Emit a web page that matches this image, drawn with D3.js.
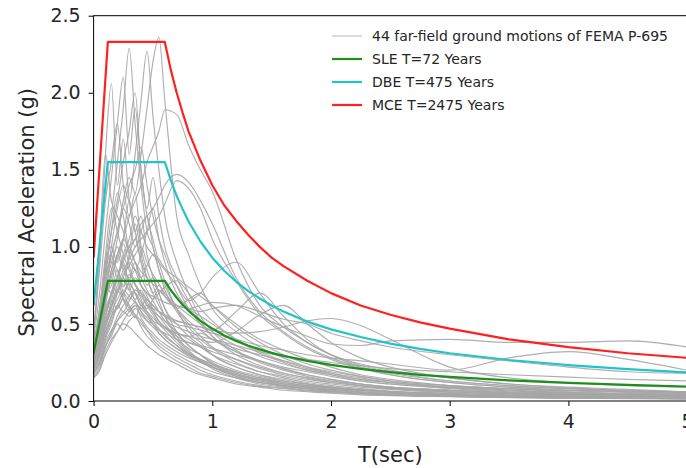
<!DOCTYPE html>
<html>
<head>
<meta charset="utf-8">
<script src="https://cdn.jsdelivr.net/npm/d3@7"></script>
<style>
  body { margin: 0; background: #fff; }
  svg { display: block; font-family: "DejaVu Sans", sans-serif; }
</style>
</head>
<body>
<svg id="chart" width="686" height="468"></svg>
<script>
// periods (s) shared by the 44 record spectra
const gmPeriods = [0, 0.05, 0.1, 0.15, 0.2, 0.25, 0.3, 0.35, 0.4, 0.45, 0.5, 0.55, 0.6, 0.7, 0.8, 0.9, 1.0,
  1.2, 1.4, 1.6, 1.8, 2.0, 2.25, 2.5, 3.0, 3.5, 4.0, 4.5, 5.0];

// spectral acceleration (g) of the 44 far-field records
const gmSa = [
  [.40,.55,.80,.95,1.10,1.30,1.45,1.35,1.60,1.90,2.20,2.36,1.95,1.20,.95,.75,.60,.45,.35,.28,.22,.18,.14,.12,.09,.07,.05,.045,.04],
  [.35,.60,.90,1.20,1.55,1.90,2.29,1.80,1.40,1.10,1.00,.85,.75,.60,.45,.38,.30,.22,.17,.14,.11,.09,.07,.06,.045,.035,.03,.025,.02],
  [.38,.50,.75,1.00,1.25,1.40,1.30,1.60,1.95,2.27,1.85,1.50,1.20,.90,.70,.55,.45,.33,.26,.21,.17,.14,.11,.09,.07,.055,.045,.04,.035],
  [.42,.90,1.60,2.06,1.40,1.70,1.30,1.10,1.20,.95,.80,.70,.60,.45,.36,.30,.24,.17,.13,.10,.08,.07,.055,.045,.035,.028,.022,.02,.018],
  [.40,.70,1.10,1.45,1.80,2.10,1.60,1.90,1.50,1.20,1.05,.90,.78,.60,.50,.42,.35,.27,.21,.17,.14,.12,.10,.08,.06,.05,.04,.035,.03],
  [.36,.55,.85,1.10,1.30,1.55,1.75,2.00,1.50,1.25,1.45,1.20,1.00,.80,.65,.52,.42,.32,.25,.20,.16,.13,.10,.085,.065,.05,.04,.035,.03],
  [.33,.45,.65,.80,.95,1.05,1.20,1.30,1.40,1.55,1.65,1.75,1.89,1.86,1.66,1.50,1.36,.92,.62,.48,.38,.30,.24,.20,.15,.11,.09,.075,.06],
  [.30,.40,.55,.70,.80,.90,1.00,1.05,1.15,1.20,1.25,1.32,1.40,1.47,1.42,1.30,1.15,.80,.58,.45,.35,.28,.22,.18,.13,.10,.08,.065,.055],
  [.28,.38,.50,.62,.75,.85,.92,1.00,1.05,1.10,1.15,1.20,1.28,1.43,1.38,1.25,1.05,.78,.56,.44,.34,.27,.21,.17,.12,.09,.07,.06,.05],
  [.45,.85,1.30,1.55,1.80,1.40,1.20,1.35,1.00,.85,.75,.65,.55,.42,.33,.26,.21,.15,.11,.09,.07,.06,.05,.04,.03,.025,.02,.018,.015],
  [.32,.45,.70,.95,1.10,1.25,1.40,1.50,1.65,1.40,1.20,1.05,.95,.75,.60,.50,.42,.30,.23,.18,.15,.12,.10,.08,.06,.045,.035,.03,.025],
  [.40,1.00,1.60,1.30,1.20,1.10,.95,.85,.75,.68,.60,.55,.50,.40,.32,.27,.22,.16,.12,.10,.08,.065,.05,.04,.03,.025,.02,.017,.015],
  [.30,.50,.80,1.10,1.35,1.20,1.00,1.15,.95,.80,.70,.62,.55,.44,.36,.30,.25,.18,.14,.11,.09,.075,.06,.05,.04,.03,.025,.022,.02],
  [.25,.40,.65,.85,1.05,1.25,1.15,1.00,1.10,1.20,1.00,.85,.72,.58,.48,.40,.34,.25,.19,.15,.12,.10,.08,.065,.05,.04,.032,.028,.025],
  [.35,.55,.90,1.00,.90,1.05,1.30,1.10,.90,.75,.80,.70,.60,.50,.42,.36,.30,.22,.17,.13,.11,.09,.07,.06,.045,.035,.03,.025,.022],
  [.22,.32,.50,.65,.80,.95,1.05,1.20,1.10,1.00,.95,.90,.85,.75,.65,.70,.80,.90,.70,.50,.38,.30,.23,.19,.13,.10,.08,.065,.055],
  [.28,.45,.70,.75,.95,.85,.80,.90,.75,.70,.65,.58,.52,.45,.40,.35,.30,.24,.19,.16,.13,.11,.09,.075,.055,.045,.035,.03,.026],
  [.20,.30,.45,.55,.70,.80,.90,.85,.95,1.10,1.25,1.05,.90,.70,.60,.55,.50,.40,.32,.26,.21,.18,.15,.12,.09,.07,.055,.045,.04],
  [.33,.60,.95,1.25,1.10,.95,.85,.75,.70,.62,.56,.50,.46,.38,.31,.26,.22,.16,.12,.10,.08,.065,.05,.04,.03,.024,.02,.017,.015],
  [.26,.40,.60,.70,.85,.75,.95,1.05,.90,.80,.70,.75,.68,.60,.52,.46,.40,.32,.26,.21,.17,.14,.11,.09,.07,.055,.045,.038,.032],
  [.18,.25,.40,.50,.62,.70,.78,.85,.80,.88,.95,.92,.86,.80,.74,.68,.62,.50,.40,.33,.27,.22,.17,.14,.10,.08,.07,.065,.06],
  [.30,.48,.72,.90,1.00,.88,.78,.70,.62,.66,.58,.52,.48,.40,.34,.30,.26,.20,.16,.13,.11,.09,.075,.06,.045,.035,.03,.025,.022],
  [.24,.36,.55,.68,.80,.92,1.00,.90,.80,.72,.66,.70,.74,.78,.70,.60,.52,.40,.31,.25,.20,.17,.13,.11,.08,.06,.05,.042,.036],
  [.34,.55,.85,.95,.80,.90,.75,.65,.58,.52,.48,.44,.40,.34,.29,.25,.22,.17,.13,.11,.09,.075,.06,.05,.04,.03,.025,.02,.018],
  [.22,.32,.48,.60,.72,.82,.88,.95,1.00,.90,.82,.76,.70,.62,.56,.50,.45,.36,.29,.24,.20,.17,.14,.12,.09,.07,.055,.045,.04],
  [.28,.42,.62,.78,.70,.80,.72,.66,.72,.64,.58,.52,.48,.42,.38,.35,.32,.27,.22,.18,.15,.13,.11,.09,.07,.055,.045,.038,.032],
  [.16,.22,.35,.45,.55,.62,.68,.72,.70,.66,.62,.58,.55,.52,.50,.48,.46,.58,.70,.55,.40,.30,.22,.17,.12,.09,.07,.06,.05],
  [.30,.45,.68,.82,.92,1.02,.88,.76,.66,.58,.52,.47,.43,.36,.30,.26,.23,.18,.14,.11,.09,.075,.06,.05,.038,.03,.025,.021,.018],
  [.20,.28,.42,.52,.62,.58,.65,.70,.64,.60,.66,.72,.68,.60,.66,.70,.62,.48,.38,.30,.24,.20,.16,.13,.10,.08,.06,.05,.045],
  [.36,.58,.82,.90,.85,.70,.62,.55,.50,.46,.42,.38,.35,.30,.26,.22,.19,.15,.12,.095,.08,.065,.05,.042,.032,.025,.02,.017,.015],
  [.25,.38,.55,.65,.60,.68,.76,.70,.62,.58,.54,.50,.47,.44,.42,.44,.40,.34,.30,.26,.22,.19,.16,.13,.10,.08,.065,.055,.048],
  [.19,.26,.38,.46,.52,.58,.55,.60,.56,.52,.50,.46,.44,.40,.38,.36,.34,.30,.26,.22,.19,.16,.13,.11,.085,.065,.05,.042,.036],
  [.32,.50,.75,.70,.78,.66,.58,.62,.54,.48,.44,.40,.37,.32,.28,.25,.22,.17,.14,.12,.10,.085,.07,.058,.045,.035,.028,.024,.02],
  [.15,.20,.30,.38,.45,.52,.58,.62,.60,.56,.52,.50,.48,.44,.42,.40,.38,.45,.56,.62,.50,.38,.28,.22,.15,.11,.085,.07,.06],
  [.22,.30,.45,.55,.62,.70,.66,.72,.68,.62,.60,.58,.56,.52,.50,.48,.46,.44,.45,.48,.52,.535,.49,.40,.22,.15,.12,.10,.09],
  [.25,.35,.52,.62,.70,.78,.72,.80,.75,.70,.68,.66,.64,.62,.60,.62,.64,.62,.55,.48,.42,.37,.36,.39,.40,.38,.38,.39,.35],
  [.26,.38,.58,.70,.80,.74,.82,.76,.70,.66,.62,.58,.55,.50,.48,.46,.44,.40,.36,.33,.30,.28,.26,.24,.20,.28,.32,.27,.20],
  [.30,.46,.70,.85,.95,1.05,.98,.90,.84,.80,.76,.72,.68,.62,.60,.58,.60,.62,.58,.53,.50,.44,.39,.35,.30,.26,.22,.19,.18],
  [.22,.32,.48,.58,.66,.72,.68,.64,.60,.62,.58,.55,.52,.48,.45,.42,.40,.36,.32,.29,.27,.25,.23,.21,.19,.17,.155,.14,.13],
  [.15,.20,.32,.40,.45,.50,.48,.44,.40,.36,.33,.30,.28,.24,.20,.17,.15,.11,.09,.07,.06,.05,.04,.035,.028,.022,.018,.015,.013],
  [.18,.25,.36,.42,.50,.46,.52,.55,.48,.42,.38,.34,.31,.26,.22,.18,.16,.12,.095,.08,.065,.055,.045,.038,.03,.024,.02,.017,.015],
  [.20,.30,.42,.55,.60,.66,.62,.56,.52,.46,.40,.36,.33,.28,.24,.20,.17,.13,.10,.085,.07,.06,.05,.042,.033,.026,.021,.018,.016],
  [.24,.34,.50,.62,.72,.66,.60,.54,.62,.56,.50,.44,.40,.34,.30,.27,.24,.19,.15,.12,.10,.085,.07,.058,.045,.036,.03,.025,.022],
  [.17,.24,.35,.44,.52,.56,.60,.64,.58,.54,.50,.46,.42,.36,.31,.27,.24,.19,.15,.12,.10,.085,.07,.06,.046,.036,.03,.026,.023]
];

// design spectra (periods in s, Sa in g)
const designPeriods = [0, 0.12, 0.6, 0.65, 0.7, 0.75, 0.8, 0.9, 1.0, 1.1, 1.2, 1.3, 1.4, 1.5, 1.6, 1.8, 2.0,
  2.25, 2.5, 2.75, 3.0, 3.5, 4.0, 4.5, 5.0];
const sleSa = [0.31, 0.78, 0.78, 0.72, 0.67, 0.625, 0.585, 0.52, 0.47, 0.425, 0.39, 0.36, 0.335, 0.312, 0.293,
  0.26, 0.234, 0.208, 0.187, 0.17, 0.156, 0.134, 0.117, 0.104, 0.094];
const dbeSa = [0.62, 1.55, 1.55, 1.435, 1.33, 1.245, 1.165, 1.035, 0.93, 0.845, 0.775, 0.715, 0.665, 0.62, 0.58,
  0.515, 0.465, 0.415, 0.372, 0.338, 0.31, 0.266, 0.233, 0.207, 0.186];
const mceSa = [0.93, 2.33, 2.33, 2.15, 2.00, 1.87, 1.75, 1.56, 1.40, 1.27, 1.17, 1.08, 1.00, 0.93, 0.875,
  0.78, 0.70, 0.62, 0.56, 0.51, 0.47, 0.40, 0.35, 0.31, 0.28];

const xTicks = [0, 1, 2, 3, 4, 5];
const yTicks = [0, 0.5, 1.0, 1.5, 2.0, 2.5];
const legendLabels = ["44 far-field ground motions of FEMA P-695", "SLE T=72 Years", "DBE T=475 Years", "MCE T=2475 Years"];
const legendColors = ["#aaaaaa", "#1e8f1e", "#22c4c8", "#ff2020"];

const plotLeft = 93.6, plotRight = 687.1, plotTop = 15.7, plotBottom = 401;

const svg = d3.select("#chart");

const x = d3.scaleLinear().domain([0, 5]).range([plotLeft, plotRight]);
const y = d3.scaleLinear().domain([0, 2.5]).range([plotBottom, plotTop]);

svg.append("clipPath").attr("id", "clip")
  .append("rect")
  .attr("x", plotLeft).attr("y", plotTop)
  .attr("width", plotRight - plotLeft).attr("height", plotBottom - plotTop);

const plot = svg.append("g").attr("clip-path", "url(#clip)");

const gmLine = d3.line()
  .x((d, i) => x(gmPeriods[i]))
  .y(d => y(d))
  .curve(d3.curveMonotoneX);

plot.selectAll(".gm")
  .data(gmSa)
  .enter()
  .append("path")
  .attr("class", "gm")
  .attr("d", gmLine)
  .attr("fill", "none")
  .attr("stroke", "#a6a6a6")
  .attr("stroke-opacity", 0.9)
  .attr("stroke-width", 1.15);

const designLine = d3.line()
  .x((d, i) => x(designPeriods[i]))
  .y(d => y(d));

[sleSa, dbeSa, mceSa].forEach((s, k) => {
  plot.append("path")
    .attr("d", designLine(s))
    .attr("fill", "none")
    .attr("stroke", legendColors[k + 1])
    .attr("stroke-width", 2.2)
    .attr("stroke-linejoin", "round");
});

// axes
const xAxis = d3.axisBottom(x).tickValues(xTicks).tickSize(5).tickPadding(9).tickFormat(d3.format("d"));
const yAxis = d3.axisLeft(y).tickValues(yTicks).tickSize(5).tickPadding(8).tickFormat(d3.format(".1f"));

const gx = svg.append("g").attr("transform", `translate(0,${plotBottom})`).call(xAxis);
const gy = svg.append("g").attr("transform", `translate(${plotLeft},0)`).call(yAxis);
[gx, gy].forEach(g => {
  g.select(".domain").remove();
  g.selectAll("text").attr("font-size", 19).attr("fill", "#262626").attr("font-family", "DejaVu Sans");
  g.selectAll("line").attr("stroke", "#000");
});

svg.append("rect")
  .attr("x", plotLeft).attr("y", plotTop)
  .attr("width", plotRight - plotLeft).attr("height", plotBottom - plotTop)
  .attr("fill", "none").attr("stroke", "#000").attr("stroke-width", 1);

svg.append("text")
  .attr("x", (plotLeft + plotRight) / 2).attr("y", 455).attr("dy", "0.35em")
  .attr("text-anchor", "middle").attr("font-size", 21).attr("fill", "#262626")
  .text("T(sec)");

svg.append("text")
  .attr("transform", `translate(27,${(plotTop + plotBottom) / 2 + 4}) rotate(-90)`)
  .attr("dy", "0.35em")
  .attr("text-anchor", "middle").attr("font-size", 21).attr("fill", "#262626")
  .text("Spectral Aceleration (g)");

// legend
const legend = svg.append("g");
legendLabels.forEach((lab, i) => {
  const ly = 36 + i * 23;
  legend.append("line")
    .attr("x1", 332).attr("x2", 362).attr("y1", ly).attr("y2", ly)
    .attr("stroke", legendColors[i])
    .attr("stroke-width", i === 0 ? 1 : 2.2)
    .attr("stroke-opacity", i === 0 ? 0.85 : 1);
  legend.append("text")
    .attr("x", 372).attr("y", ly).attr("dy", "0.35em")
    .attr("font-size", 14).attr("fill", "#262626")
    .text(lab);
});
</script>
</body>
</html>
